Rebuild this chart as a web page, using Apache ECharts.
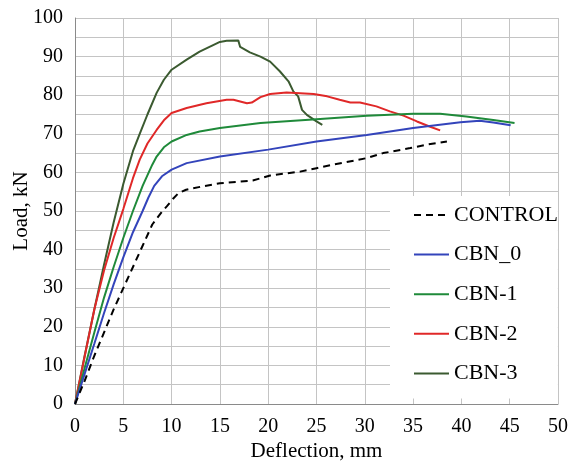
<!DOCTYPE html>
<html>
<head>
<meta charset="utf-8">
<script src="https://cdn.jsdelivr.net/npm/echarts@6/dist/echarts.min.js"></script>
<style>html,body{margin:0;padding:0;background:#fff}#c{width:575px;height:462px}</style>
</head>
<body>
<div id="c"></div>
<script>
const seriesNames = ['CONTROL', 'CBN_0', 'CBN-1', 'CBN-2', 'CBN-3'];
const xTicks = [0, 5, 10, 15, 20, 25, 30, 35, 40, 45, 50];
const yTicks = [0, 10, 20, 30, 40, 50, 60, 70, 80, 90, 100];

const controlData = [[0,0],[1,6],[2,12.5],[3,18.5],[4,24.5],[5,30],[6,35.5],[7,41],[8,46.5],[9,49.8],[9.5,51.2],[10.2,53.3],[10.7,54.6],[11.5,55.5],[12.2,55.9],[15,57.2],[17,57.6],[18.4,57.9],[20.2,59.2],[23.3,60.2],[25,61.1],[26.7,62],[30.2,63.7],[31.9,65],[34.7,66.3],[36.4,67.2],[38.5,68]];
const cbn0Data = [[0,0],[1,7.8],[2,15.6],[3,23.5],[4,31],[5,38],[6,44.5],[7,50],[7.6,53.5],[8.2,56.5],[9,59],[10,60.7],[11.56,62.4],[15,64.1],[20,65.9],[25,68],[30.2,69.7],[35,71.5],[39.9,73],[41.9,73.4],[43.3,72.9],[45.1,72.2]];
const cbn1Data = [[0,0],[1,9.3],[2,18.5],[3,27.5],[4,35.5],[5,43],[6,50],[7,56.5],[8,62],[8.45,64.1],[9.2,66.5],[10,68],[11.56,69.7],[12.9,70.6],[15,71.5],[19.2,72.8],[25,73.8],[30.2,74.7],[35,75.2],[37.8,75.2],[40.5,74.5],[43.3,73.6],[45.5,72.8]];
const cbn2Data = [[0,0],[1,12.3],[2,24.5],[3,34.5],[4,43],[5,50.5],[6,58.5],[6.7,63.3],[7.5,67.5],[8.45,71],[9.2,73.5],[10,75.4],[11.56,76.7],[13.6,77.9],[15.7,78.8],[16.4,78.8],[17.8,77.9],[18.3,78.1],[19.2,79.5],[20.2,80.3],[21.9,80.7],[23.3,80.5],[24.7,80.3],[26.1,79.7],[27.4,78.8],[28.5,78.1],[29.5,78.1],[31.2,77.1],[32.6,75.8],[34,74.7],[35.4,73.2],[36.7,71.9],[37.8,70.9]];
const cbn3Data = [[0,0],[1,12.5],[2,24.5],[3,36],[4,47],[5,57],[6,65.5],[6.73,70.2],[7.5,75],[8.45,80.6],[9.2,84],[10,86.6],[11.56,89.2],[12.9,91.3],[15,93.8],[15.7,94.1],[16.9,94.2],[17.1,92.5],[18.1,91.1],[19.2,90],[20.2,88.7],[21.2,86.2],[22.1,83.6],[22.6,81],[23.1,79.7],[23.5,76.2],[24,74.9],[25,73.2],[25.6,72.3]];

const seriesData = [controlData, cbn0Data, cbn1Data, cbn2Data, cbn3Data];
const colors = ['#000000', '#3344bb', '#1f8a3a', '#e02828', '#3b5a30'];
const font = "'Liberation Serif', 'Times New Roman', serif";

const chart = echarts.init(document.getElementById('c'), null, {renderer: 'canvas'});
chart.setOption({
  animation: false,
  backgroundColor: '#fff',
  grid: {left: 75, right: 17, top: 18, bottom: 58, containLabel: false, outerBoundsMode: 'none'},
  xAxis: {
    type: 'value', min: xTicks[0], max: xTicks[xTicks.length - 1], interval: 5,
    name: 'Deflection, mm', nameLocation: 'middle', nameGap: 37, nameMoveOverlap: false,
    nameTextStyle: {fontFamily: font, fontSize: 21, color: '#000'},
    axisLine: {show: true, lineStyle: {color: '#8a8a8a', width: 1}},
    axisTick: {show: false},
    axisLabel: {fontFamily: font, fontSize: 20, color: '#000', margin: 13},
    splitLine: {show: true, lineStyle: {color: '#c4c4c4', width: 1}}
  },
  yAxis: {
    type: 'value', min: yTicks[0], max: yTicks[yTicks.length - 1], interval: 5,
    name: 'Load, kN', nameLocation: 'middle', nameGap: 43, nameMoveOverlap: false,
    nameTextStyle: {fontFamily: font, fontSize: 21, color: '#000'},
    axisLine: {show: true, lineStyle: {color: '#8a8a8a', width: 1}},
    axisTick: {show: false},
    axisLabel: {fontFamily: font, fontSize: 20, color: '#000', margin: 12,
      formatter: v => (yTicks.indexOf(v) >= 0 ? String(v) : '')},
    splitLine: {show: true, lineStyle: {color: '#c4c4c4', width: 1}}
  },
  legend: {
    orient: 'vertical', left: 390, top: 196,
    padding: [8, 0, 14, 23], itemGap: 17.6,
    itemWidth: 35, itemHeight: 14,
    backgroundColor: '#ffffff',
    itemStyle: {opacity: 0},
    textStyle: {fontFamily: font, fontSize: 22, color: '#000', lineHeight: 22},
    data: seriesNames
  },
  series: seriesNames.map((n, i) => ({
    name: n, type: 'line', data: seriesData[i],
    symbol: 'none', smooth: false,
    lineStyle: {color: colors[i], width: 2, type: i === 0 ? [7, 5] : 'solid'},
    itemStyle: {color: colors[i]},
    z: 2 + (5 - i)
  }))
});
</script>
</body>
</html>
